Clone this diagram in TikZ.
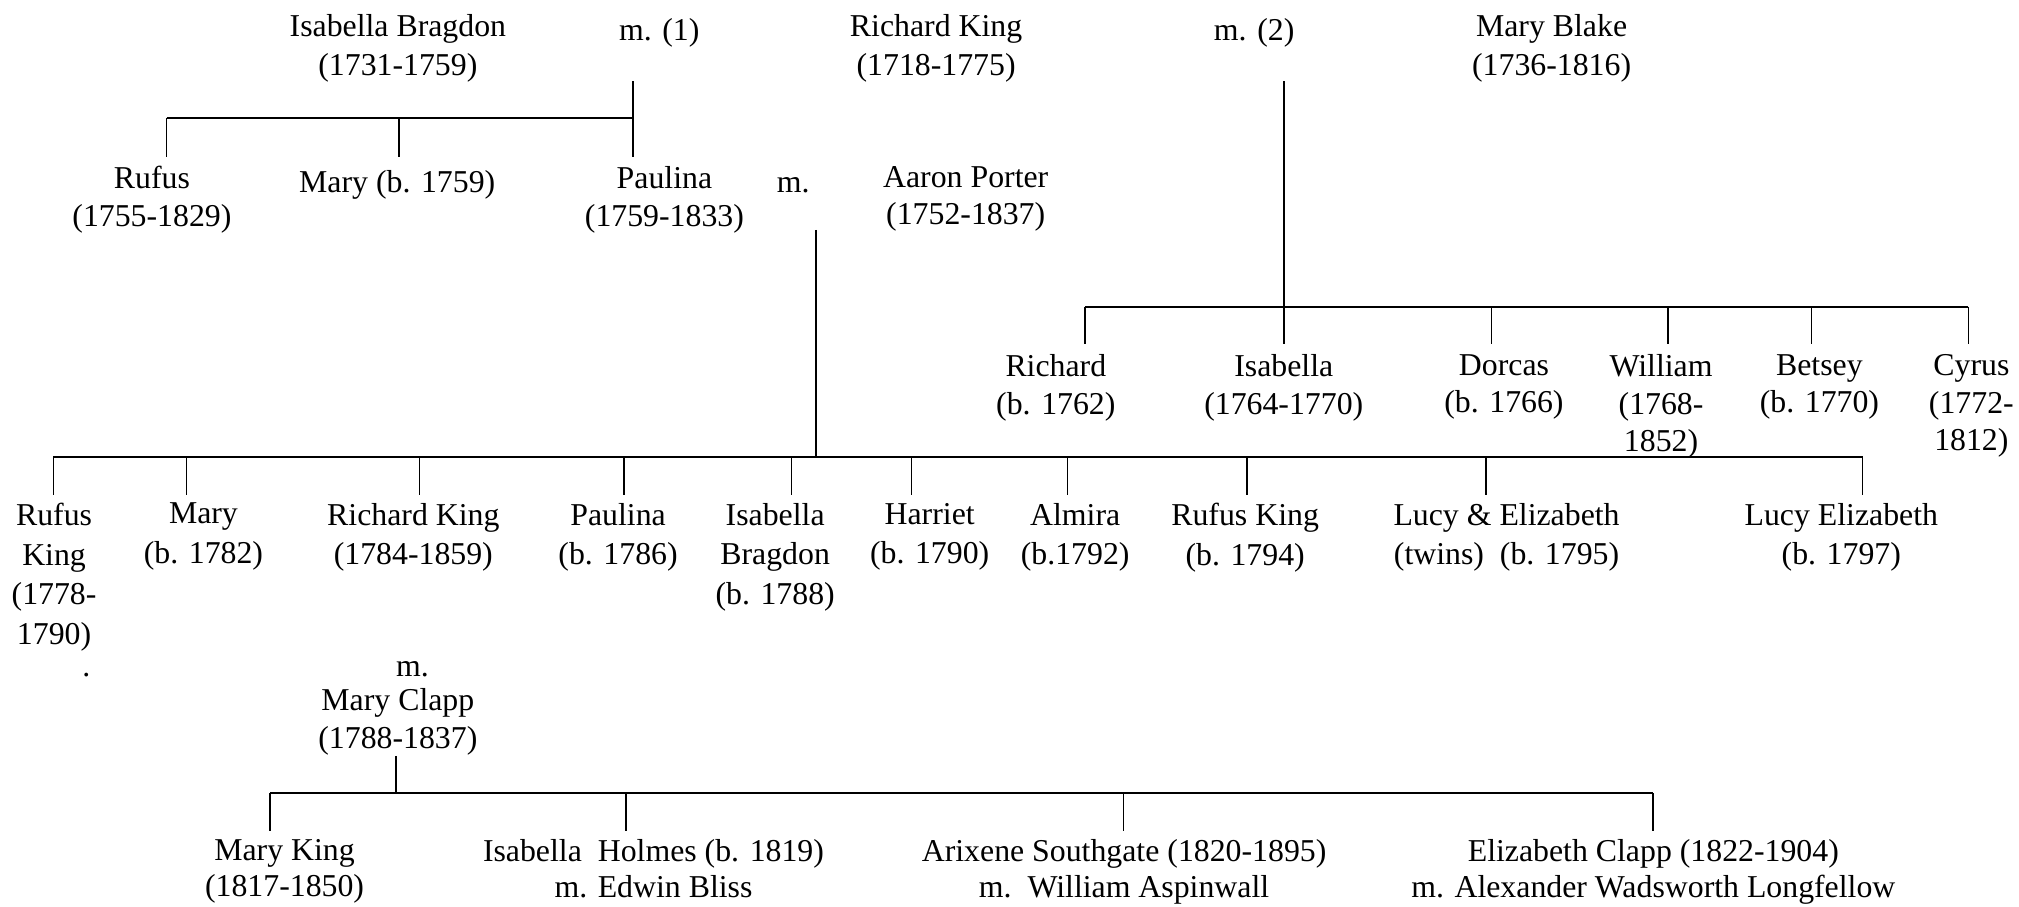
\documentclass[tikz,border=0pt]{standalone}
\usepackage{fontspec}
\setmainfont{Liberation Serif}
\begin{document}
\begin{tikzpicture}[x=1pt,y=-1pt,
  person/.style={align=center, inner sep=0pt, anchor=north,
    font=\fontsize{24.7}{28.8}\selectfont,
    execute at begin node={\rule{0pt}{20pt}}},
  wide/.style={font=\fontsize{24.7}{30.3}\selectfont},
  mid/.style={font=\fontsize{24.7}{29.2}\selectfont},
  tall/.style={font=\fontsize{24.7}{30.8}\selectfont},
  low/.style={font=\fontsize{24.7}{28}\selectfont},
  bar/.style={line width=1.5pt},
  stem/.style={line width=1.2pt}]
\useasboundingbox (0,0) rectangle (1568,704);

% ---- generation 1
\node[person,wide] (ib) at (309,11) {Isabella Bragdon\\(1731-1759)};
\node[person] (m1) at (512,11) {m. (1)};
\node[person,wide] (rk) at (727,11) {Richard King\\(1718-1775)};
\node[person] (m2) at (974,11) {m. (2)};
\node[person,wide] (mb) at (1205,11) {Mary Blake\\(1736-1816)};

% ---- generation 2, first marriage
\node[person,mid] (rufus) at (118,129) {Rufus\\(1755-1829)};
\node[person,mid] (maryb) at (308.5,129) {Mary (b. 1759)};
\node[person,mid] (paulina) at (516,129) {Paulina\\(1759-1833)};
\node[person,mid] (mp) at (616,129) {m.};
\node[person,mid] (ap) at (750,129) {Aaron Porter\\(1752-1837)};

% ---- generation 2, second marriage
\node[person,mid] (richard) at (820,275) {Richard\\(b. 1762)};
\node[person,mid] (isabella) at (997,275) {Isabella\\(1764-1770)};
\node[person,mid] (dorcas) at (1168,275) {Dorcas\\(b. 1766)};
\node[person,mid] (william) at (1290,275) {William\\(1768-\\1852)};
\node[person,mid] (betsey) at (1413,275) {Betsey\\(b. 1770)};
\node[person,mid] (cyrus) at (1531,275) {Cyrus\\(1772-\\1812)};

% ---- generation 3 (Porter children)
\node[person,tall] (rufusk) at (42,390.5) {Rufus\\King\\(1778-\\1790)};
\node[person,tall] (mary2) at (158,390.5) {Mary\\(b. 1782)};
\node[person,tall] (rking) at (321,390.5) {Richard King\\(1784-1859)};
\node[person,tall] (paulina2) at (480,390.5) {Paulina\\(b. 1786)};
\node[person,tall] (isab2) at (602,390.5) {Isabella\\Bragdon\\(b. 1788)};
\node[person,tall] (harriet) at (722,390.5) {Harriet\\(b. 1790)};
\node[person,tall] (almira) at (835,390.5) {Almira\\(b.1792)};
\node[person,tall] (rufusk2) at (967,390.5) {Rufus King\\(b. 1794)};
\node[person,tall] (lucyel) at (1170,390.5) {Lucy \& Elizabeth\\(twins)~~(b. 1795)};
\node[person,tall] (lucye) at (1430,390.5) {Lucy Elizabeth\\(b. 1797)};

% ---- Richard King's marriage
\node[person] (dot) at (67,505.5) {.};
\node[person] (mrc) at (320.4,505.5) {m.};
\node[person,mid] (mc) at (309,534.5) {Mary Clapp\\(1788-1837)};

% ---- generation 4
\node[person,low] (mk) at (221,652) {Mary King\\(1817-1850)};
\node[person,low] (ih) at (507.5,652) {Isabella~~Holmes (b. 1819)\\m. Edwin Bliss};
\node[person,low] (as) at (873,652) {Arixene Southgate (1820-1895)\\m.~~William Aspinwall};
\node[person,low] (ec) at (1284,652) {Elizabeth Clapp (1822-1904)\\m. Alexander Wadsworth Longfellow};

% ---- connector coordinates
% family 1: Isabella Bragdon & Richard King
\coordinate (j1) at (491.4,63);
\coordinate (b1) at (491.4,92);
\coordinate (d1a) at (129.4,122.2);
\coordinate (d1b) at (309.9,122.2);
\coordinate (d1c) at (491.4,122.2);
% family 2: Paulina & Aaron Porter
\coordinate (j2) at (633.7,178.6);
\coordinate (b2) at (633.7,354.7);
\coordinate (d2a) at (41.5,384.4);
\coordinate (d2b) at (145,384.4);
\coordinate (d2c) at (325.7,384.4);
\coordinate (d2d) at (484.5,384.4);
\coordinate (d2e) at (614.8,384.4);
\coordinate (d2f) at (708,384.4);
\coordinate (d2g) at (829.2,384.4);
\coordinate (d2h) at (968.5,384.4);
\coordinate (d2i) at (1154,384.4);
\coordinate (d2j) at (1446.6,384.4);
% family 3: Richard King & Mary Blake
\coordinate (j3) at (997,63);
\coordinate (b3) at (997,238.2);
\coordinate (d3a) at (842.7,267.3);
\coordinate (d3b) at (997,267.3);
\coordinate (d3c) at (1158.4,267.3);
\coordinate (d3d) at (1295.2,267.3);
\coordinate (d3e) at (1407,267.3);
\coordinate (d3f) at (1528.7,267.3);
% family 4: Richard King & Mary Clapp
\coordinate (j4) at (307.5,587);
\coordinate (b4) at (307.5,616.1);
\coordinate (d4a) at (209.7,645.6);
\coordinate (d4b) at (486,645.6);
\coordinate (d4c) at (872.5,645.6);
\coordinate (d4d) at (1283.7,645.6);

% ---- connectors
\draw[stem] (j1) -- (b1);
\draw[bar] (d1a |- b1) -- (b1);
\foreach \c in {d1a,d1b,d1c} \draw[stem] (\c |- b1) -- (\c);

\draw[stem] (j2) -- (b2);
\draw[bar] (d2a |- b2) -- (d2j |- b2);
\foreach \c in {d2a,d2b,d2c,d2d,d2e,d2f,d2g,d2h,d2i,d2j} \draw[stem] (\c |- b2) -- (\c);

\draw[stem] (j3) -- (b3);
\draw[bar] (d3a |- b3) -- (d3f |- b3);
\foreach \c in {d3a,d3b,d3c,d3d,d3e,d3f} \draw[stem] (\c |- b3) -- (\c);

\draw[stem] (j4) -- (b4);
\draw[bar] (d4a |- b4) -- (d4d |- b4);
\foreach \c in {d4a,d4b,d4c,d4d} \draw[stem] (\c |- b4) -- (\c);
\end{tikzpicture}
\end{document}
